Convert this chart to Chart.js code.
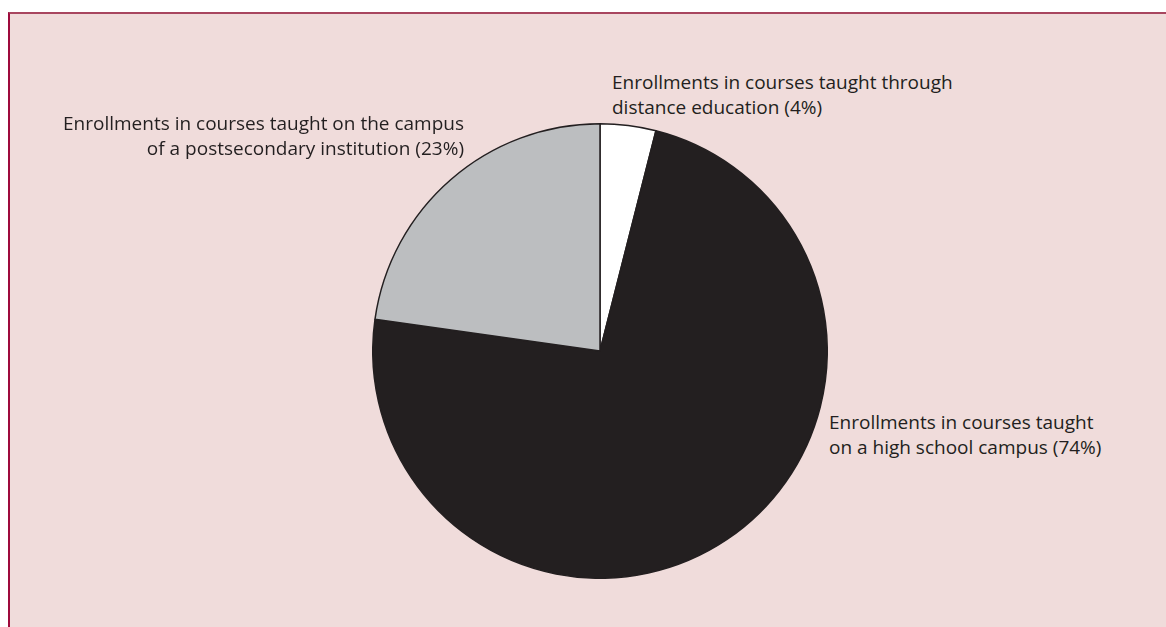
<!DOCTYPE html>
<html lang="en">
<head>
    <meta charset="UTF-8">
    <title>Dual Enrollment by Location</title>
    <script src="https://cdn.jsdelivr.net/npm/chart.js"></script>
    <style>
        body { margin: 0; background: #ffffff; width: 1166px; height: 627px; overflow: hidden; font-family: "Open Sans", sans-serif; }
        .panel { position: absolute; left: 8px; top: 12px; right: 0; bottom: 0; background: #f0dcdb; border-top: 2px solid #a8465f; border-left: 2px solid #9e0a3c; }
        .pie-box { position: absolute; left: 372px; top: 123px; width: 456px; height: 456px; }
        .label { position: absolute; color: #231f20; font-size: 19px; line-height: 24.5px; white-space: nowrap; }
    </style>
</head>
<body>
    <div class="panel"></div>
    <div class="pie-box"><canvas id="pieChart"></canvas></div>
    <div class="label" id="lbl0" style="left:612px; top:70px;"></div>
    <div class="label" id="lbl1" style="left:829px; top:410px;"></div>
    <div class="label" id="lbl2" style="right:702px; top:111px; text-align:right;"></div>
    <script>
        // slices go clockwise from 12 o'clock
        const categories = [
            ['Enrollments in courses taught through', 'distance education'],
            ['Enrollments in courses taught', 'on a high school campus'],
            ['Enrollments in courses taught on the campus', 'of a postsecondary institution']
        ];
        const shares = [4, 74, 23];
        const sliceColors = ['#ffffff', '#231f20', '#bcbec0'];

        categories.forEach((lines, i) => {
            document.getElementById('lbl' + i).innerHTML =
                lines[0] + '<br>' + lines[1] + ' (' + shares[i] + '%)';
        });

        new Chart(document.getElementById('pieChart'), {
            type: 'pie',
            data: {
                labels: categories.map(c => c.join(' ')),
                datasets: [{
                    data: shares,
                    backgroundColor: sliceColors,
                    borderColor: '#231f20',
                    borderWidth: 1.5
                }]
            },
            options: {
                responsive: true,
                maintainAspectRatio: true,
                animation: false,
                plugins: {
                    legend: { display: false },
                    tooltip: { enabled: false }
                }
            }
        });
    </script>
</body>
</html>
